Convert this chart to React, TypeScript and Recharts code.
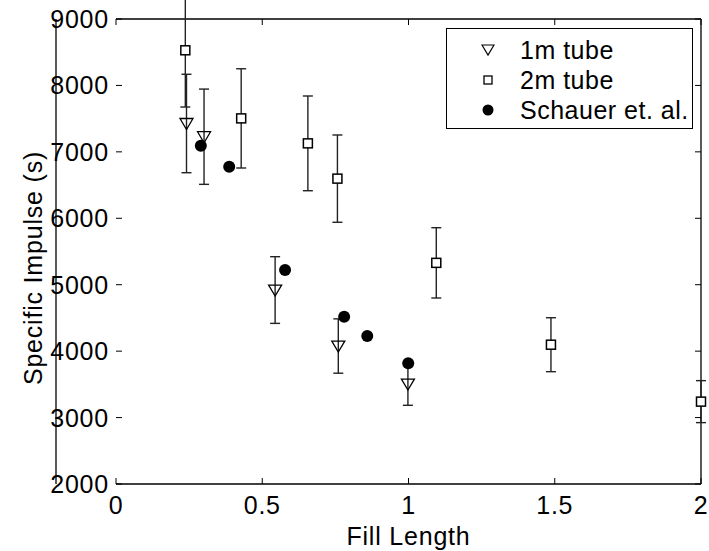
import React from 'react';
import { ScatterChart, Scatter, XAxis, YAxis, ErrorBar, ReferenceLine, Legend } from 'recharts';

const X_TICKS = [0, 0.5, 1, 1.5, 2];
const Y_TICKS = [2000, 3000, 4000, 5000, 6000, 7000, 8000, 9000];

const SERIES_NAMES = ['1m tube', '2m tube', 'Schauer et. al.'];

// 1m tube, with symmetric error
const tube1X = [0.241, 0.301, 0.544, 0.76, 0.998];
const tube1Y = [7427, 7228, 4920, 4077, 3505];
const tube1Err = [741, 717, 502, 409, 320];

// 2m tube, with symmetric error
const tube2X = [0.237, 0.428, 0.656, 0.757, 1.095, 1.487, 2.0];
const tube2Y = [8529, 7504, 7128, 6597, 5329, 4097, 3240];
const tube2Err = [854, 747, 713, 657, 529, 406, 316];

// Schauer et. al.
const schauerX = [0.29, 0.387, 0.578, 0.78, 0.859, 0.999];
const schauerY = [7093, 6777, 5222, 4519, 4228, 3817];

const W = 709;
const H = 551;
const TOP = 19;
const RIGHT = 8;
const X_AXIS_H = 67;
const Y_AXIS_W = 116;
const PLOT_BOTTOM = H - X_AXIS_H;
const PLOT_RIGHT = W - RIGHT;
const FONT = '"Liberation Sans", Arial, Helvetica, sans-serif';
const FS = 25;
const LS = 0.8;

const tube1 = tube1X.map((x, i) => ({ x, y: tube1Y[i], err: tube1Err[i] }));
const tube2 = tube2X.map((x, i) => ({ x, y: tube2Y[i], err: tube2Err[i] }));
const schauer = schauerX.map((x, i) => ({ x, y: schauerY[i] }));

const Triangle = ({ cx, cy }: any) => (
  <polygon
    points={`${cx - 6.5},${cy - 5} ${cx + 6.5},${cy - 5} ${cx},${cy + 6}`}
    fill="none" stroke="#000" strokeWidth={1.3}
  />
);
const Square = ({ cx, cy }: any) => (
  <rect x={cx - 4.5} y={cy - 4.5} width={9} height={9} fill="#fff" stroke="#000" strokeWidth={1.5} />
);
const Dot = ({ cx, cy }: any) => <circle cx={cx} cy={cy} r={6} fill="#000" />;
const Nothing = () => <g />;

const ICONS: Record<string, React.ReactNode> = {
  '1m tube': <polygon points="1,2 13,2 7,12" fill="none" stroke="#000" strokeWidth={1.2} />,
  '2m tube': <rect x={3} y={3} width={8} height={8} fill="none" stroke="#000" strokeWidth={1.3} />,
  'Schauer et. al.': <circle cx={7} cy={7} r={5.5} fill="#000" />,
};

const XTick = ({ x, payload }: any) => (
  <g>
    <line x1={x} x2={x} y1={PLOT_BOTTOM} y2={PLOT_BOTTOM - 6} stroke="#000" />
    <line x1={x} x2={x} y1={TOP} y2={TOP + 6} stroke="#000" />
    <text x={x} y={PLOT_BOTTOM + 30} textAnchor="middle" fontSize={FS} fontFamily={FONT}
      letterSpacing={LS} fill="#000">
      {payload.value}
    </text>
  </g>
);

const YTick = ({ y, payload }: any) => (
  <g>
    <line x1={Y_AXIS_W} x2={Y_AXIS_W + 6} y1={y} y2={y} stroke="#000" />
    <line x1={PLOT_RIGHT} x2={PLOT_RIGHT - 6} y1={y} y2={y} stroke="#000" />
    <text x={Y_AXIS_W - 7} y={y + 9} textAnchor="end" fontSize={FS} fontFamily={FONT}
      letterSpacing={LS} fill="#000">
      {payload.value}
    </text>
  </g>
);

const YLabel = () => (
  <text
    x={33} y={268} transform="rotate(-90, 33, 268)" textAnchor="middle" dominantBaseline="central"
    fontSize={FS} fontFamily={FONT} letterSpacing={LS} fill="#000"
  >
    Specific Impulse (s)
  </text>
);

const LegendBox = () => (
  <div style={{
    border: '1px solid #000', background: '#fff', width: 247, height: 101,
    boxSizing: 'border-box', paddingTop: 6, fontFamily: FONT, fontSize: FS,
    letterSpacing: 0.5, whiteSpace: 'nowrap', overflow: 'visible',
  }}>
    {SERIES_NAMES.map((name) => (
      <div key={name} style={{ display: 'flex', alignItems: 'center', height: 30 }}>
        <svg width={14} height={14} style={{ marginLeft: 34, marginRight: 25, flexShrink: 0 }}>{ICONS[name]}</svg>
        <span style={{ lineHeight: '30px', flexShrink: 0 }}>{name}</span>
      </div>
    ))}
  </div>
);

export default function App() {
  return (
    <div style={{ position: 'absolute', left: 0, top: 0, width: W, height: H, background: '#fff' }}>
      <ScatterChart width={W} height={H} margin={{ top: TOP, right: RIGHT, bottom: 0, left: 0 }}>
        <XAxis
          type="number" dataKey="x" domain={[0, 2]} ticks={X_TICKS} height={X_AXIS_H}
          tickSize={0} tickMargin={0} tick={<XTick />} stroke="#000" strokeWidth={1.3}
          label={{ value: 'Fill Length', position: 'insideBottom', offset: 6, fontSize: FS, fill: '#000', fontFamily: FONT, letterSpacing: LS }}
        />
        <YAxis
          yAxisId="m" type="number" dataKey="y" domain={[2000, 9000]} ticks={Y_TICKS} width={Y_AXIS_W}
          tickSize={0} tickMargin={0} tick={<YTick />} stroke="#000" strokeWidth={1.3}
          label={<YLabel />}
        />
        <YAxis yAxisId="e" type="number" dataKey="y" domain={[2000, 9000]} allowDataOverflow hide />
        <ReferenceLine yAxisId="m" y={9000} stroke="#000" strokeWidth={1.3} />
        <ReferenceLine yAxisId="m" x={2} stroke="#000" strokeWidth={1.3} />

        <Scatter yAxisId="e" data={tube1} shape={<Nothing />} legendType="none" isAnimationActive={false}>
          <ErrorBar dataKey="err" direction="y" width={5} stroke="#222" strokeWidth={1.4} isAnimationActive={false} />
        </Scatter>
        <Scatter yAxisId="e" data={tube2} shape={<Nothing />} legendType="none" isAnimationActive={false}>
          <ErrorBar dataKey="err" direction="y" width={5} stroke="#222" strokeWidth={1.4} isAnimationActive={false} />
        </Scatter>
        <Scatter yAxisId="m" name={SERIES_NAMES[0]} data={tube1} shape={<Triangle />} isAnimationActive={false} />
        <Scatter yAxisId="m" name={SERIES_NAMES[1]} data={tube2} shape={<Square />} isAnimationActive={false} />
        <Scatter yAxisId="m" name={SERIES_NAMES[2]} data={schauer} shape={<Dot />} isAnimationActive={false} />

        <Legend
          layout="vertical" align="center" verticalAlign="middle"
          content={<LegendBox />}
          wrapperStyle={{ left: 446, top: 28, width: 247, height: 101 }}
        />
      </ScatterChart>
    </div>
  );
}
